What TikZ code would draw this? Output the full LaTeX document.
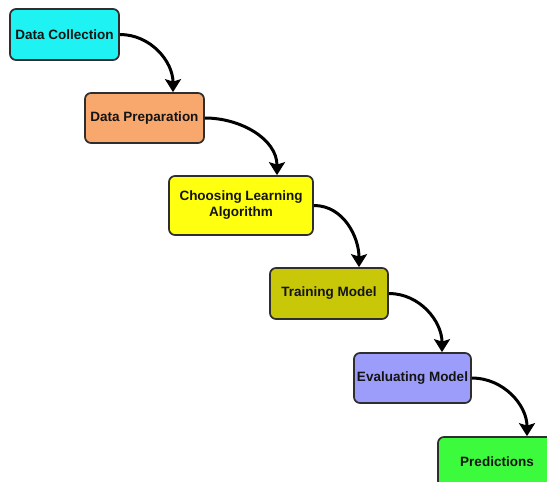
\documentclass[tikz,border=0pt]{standalone}
\usepackage{fontspec}
\setmainfont{Liberation Sans}
\usetikzlibrary{arrows.meta}
\definecolor{cCyan}{HTML}{1EF2F2}
\definecolor{cOrange}{HTML}{F8A86C}
\definecolor{cYellow}{HTML}{FFFF10}
\definecolor{cOlive}{HTML}{C8C808}
\definecolor{cLav}{HTML}{9C9CFA}
\definecolor{cGreen}{HTML}{3CFA3C}
\definecolor{cBorder}{HTML}{2E2E2E}
\definecolor{cText}{HTML}{141414}
\begin{document}
\begin{tikzpicture}[x=1pt,y=-1pt,
  stepbox/.style={draw=cBorder, line width=1.7pt, rounded corners=6pt,
    font=\fontsize{13.5}{16}\selectfont\bfseries, text=cText, align=center,
    inner sep=0pt},
  flow/.style={line width=3pt,
    -{Stealth[length=13pt,width=16pt,inset=2.5pt]}}]
\useasboundingbox (0,0) rectangle (547,482);
\node[stepbox, fill=cCyan, minimum width=109pt, minimum height=51pt] (b1) at (64.5,34.5) {Data Collection};
\node[stepbox, fill=cOrange, minimum width=119pt, minimum height=50pt] (b2) at (144.5,118) {Data Preparation};
\node[stepbox, fill=cYellow, minimum width=144pt, minimum height=59pt] (b3) at (241,205.5) {Choosing Learning\\Algorithm};
\node[stepbox, fill=cOlive, minimum width=118pt, minimum height=51pt] (b4) at (329,293.5) {Training Model};
\node[stepbox, fill=cLav, minimum width=117pt, minimum height=50pt] (b5) at (412.5,378) {Evaluating Model};
\node[stepbox, fill=cGreen, minimum width=118pt, minimum height=50pt] (b6) at (497,462) {Predictions};
\coordinate (e2) at ([xshift=28.5pt]b2.north);
\coordinate (e3) at ([xshift=36pt]b3.north);
\coordinate (e4) at ([xshift=30pt]b4.north);
\coordinate (e5) at ([xshift=29.5pt]b5.north);
\coordinate (e6) at ([xshift=30pt]b6.north);
\draw[flow] (b1.east) to[out=0,in=90] (e2);
\draw[flow] (b2.east) to[out=0,in=90] (e3);
\draw[flow] (b3.east) to[out=0,in=90] (e4);
\draw[flow] (b4.east) to[out=0,in=90] (e5);
\draw[flow] (b5.east) to[out=0,in=90] (e6);
\end{tikzpicture}
\end{document}
